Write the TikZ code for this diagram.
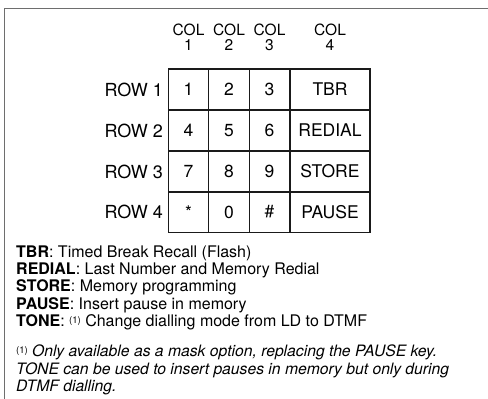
\documentclass[tikz,border=0pt]{standalone}
\usepackage{fontspec}
\setmainfont{TeX Gyre Heros}
\usepackage{tikz}
\usetikzlibrary{positioning}
\definecolor{ink}{HTML}{1A1A1A}
\definecolor{framegray}{HTML}{6E6E6E}

\begin{document}
\begin{tikzpicture}[x=1pt, y=-1pt,
    key/.style={draw=ink, line width=1.1pt, inner sep=0pt, minimum width=40.5pt, minimum height=41pt, font=\fontsize{17.5}{17}\selectfont},
    widekey/.style={key, minimum width=80pt},
    rowlabel/.style={anchor=east, inner sep=0pt, font=\fontsize{18}{18}\selectfont},
    collabel/.style={align=center, inner sep=0pt, font=\fontsize{15.5}{15}\selectfont},
    legend/.style={anchor=base west, inner sep=0pt, font=\fontsize{16}{17}\selectfont},
    note/.style={anchor=base west, inner sep=0pt, font=\fontsize{15.7}{17}\selectfont\itshape}]
    \useasboundingbox (0,0) rectangle (488,399);

    % Frame
    \draw[framegray, line width=0.8pt] (4.5,399) -- (4.5,8) -- (488,8);

    % Column labels
    \node[collabel] (c1) at (188.5, 37) {COL\\1};
    \node[collabel] (c2) at (229, 37) {COL\\2};
    \node[collabel] (c3) at (269.5, 37) {COL\\3};
    \node[collabel] (c4) at (330, 37) {COL\\4};

    % Keys
    \node[key] (k1) at (188.5, 89.5) {1};
    \node[key] (k2) at (229, 89.5) {2};
    \node[key] (k3) at (269.5, 89.5) {3};
    \node[widekey] (tbr) at (330, 89.5) {TBR};
    \node[key] (k4) at (188.5, 130.5) {4};
    \node[key] (k5) at (229, 130.5) {5};
    \node[key] (k6) at (269.5, 130.5) {6};
    \node[widekey] (redial) at (330, 130.5) {REDIAL};
    \node[key] (k7) at (188.5, 171.5) {7};
    \node[key] (k8) at (229, 171.5) {8};
    \node[key] (k9) at (269.5, 171.5) {9};
    \node[widekey] (store) at (330, 171.5) {STORE};
    \node[key] (kstar) at (188.5, 212) {*};
    \node[key] (k0) at (229, 212) {0};
    \node[key] (khash) at (269.5, 212) {\#};
    \node[widekey] (pause) at (330, 212) {PAUSE};

    % Row labels
    \node[rowlabel] (r1) at (163, 89.5) {ROW 1};
    \node[rowlabel] (r2) at (163, 130.5) {ROW 2};
    \node[rowlabel] (r3) at (163, 171.5) {ROW 3};
    \node[rowlabel] (r4) at (163, 212) {ROW 4};

    % Key legend
    \node[legend] (ltbr) at (16, 257) {\textbf{TBR}: Timed Break Recall (Flash)};
    \node[legend] (lredial) at (16, 274.3) {\textbf{REDIAL}: Last Number and Memory Redial};
    \node[legend] (lstore) at (16, 291.7) {\textbf{STORE}: Memory programming};
    \node[legend] (lpause) at (16, 309) {\textbf{PAUSE}: Insert pause in memory};
    \node[legend] (ltone) at (16, 326.3) {\textbf{TONE}: {\fontsize{9.5}{9}\selectfont\raisebox{3pt}{(1)}} Change dialling mode from LD to DTMF};

    % Footnote
    \node[note] (n1) at (16, 356.7) {{\upshape\fontsize{9.5}{9}\selectfont\raisebox{3pt}{(1)}} Only available as a mask option, replacing the PAUSE key.};
    \node[note] (n2) at (16, 374.3) {TONE can be used to insert pauses in memory but only during};
    \node[note] (n3) at (16, 391.7) {DTMF dialling.};
\end{tikzpicture}
\end{document}
